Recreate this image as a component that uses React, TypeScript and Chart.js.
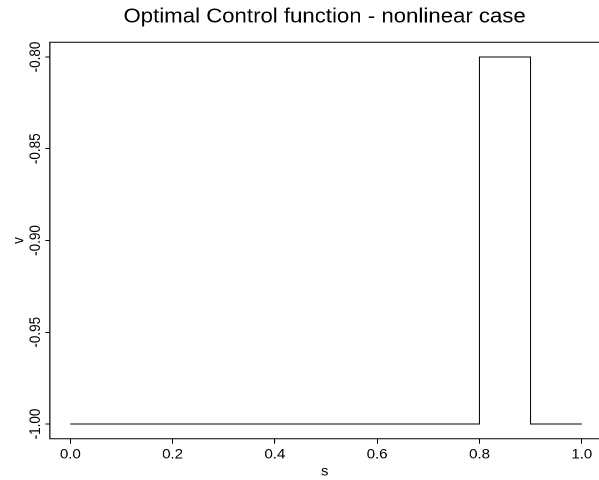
import React, { useEffect, useRef } from "react";
import { Chart, registerables } from "chart.js";

Chart.register(...registerables);

// Data: piecewise-constant optimal control v(s)
const sKnots = [0, 0.8, 0.9, 1.0];
const vValues = [-1.0, -0.8, -1.0, -1.0];

const xTicks = [0, 0.2, 0.4, 0.6, 0.8, 1.0];
const yTicks = [-1.0, -0.95, -0.9, -0.85, -0.8];

const titleText = "Optimal Control function - nonlinear case";
const xTitle = "s";
const yTitle = "v";

const SX = 1.11;
const CW = 540;
const CH = 480;
const FONT = "'Liberation Sans', Arial, Helvetica, sans-serif";

const boxPlugin = {
  id: "rbox",
  afterDraw(chart: any) {
    const { ctx, chartArea } = chart;
    const { left, top, right, bottom } = chartArea;
    ctx.save();
    ctx.strokeStyle = "#000";
    ctx.lineWidth = 1;
    ctx.beginPath();
    ctx.moveTo(right + 2, top);
    ctx.lineTo(left, top);
    ctx.lineTo(left, bottom);
    ctx.lineTo(right + 2, bottom);
    ctx.stroke();
    ctx.restore();
  },
};

export default function App() {
  const ref = useRef<HTMLCanvasElement | null>(null);

  useEffect(() => {
    if (!ref.current) return;
    const data = sKnots.map((s, i) => ({ x: s, y: vValues[i] }));
    const chart = new Chart(ref.current, {
      type: "line",
      data: {
        datasets: [
          {
            data,
            borderColor: "#000",
            borderWidth: 1,
            pointRadius: 0,
            fill: false,
            stepped: "before",
          },
        ],
      },
      options: {
        responsive: false,
        animation: false,
        devicePixelRatio: 2,
        layout: { padding: 0 },
        plugins: {
          legend: { display: false },
          tooltip: { enabled: false },
          title: {
            display: true,
            text: titleText,
            color: "#000",
            fullSize: false,
            font: { family: FONT, size: 20, weight: "normal" },
            padding: { top: 5, bottom: 13.3 },
          },
        },
        scales: {
          x: {
            type: "linear",
            min: -0.04,
            max: 1.0345,
            afterBuildTicks: (scale: any) => {
              scale.ticks = xTicks.map((v) => ({ value: v }));
            },
            afterFit: (scale: any) => {
              scale.height = 41.3;
            },
            grid: {
              display: true,
              drawOnChartArea: false,
              drawTicks: true,
              tickLength: 5,
              color: "#000",
              lineWidth: 1,
            },
            border: { display: false },
            ticks: {
              autoSkip: false,
              maxRotation: 0,
              color: "#000",
              padding: 3,
              font: { family: FONT, size: 13.5 },
              callback: (v: any) => Number(v).toFixed(1),
            },
            title: {
              display: true,
              text: xTitle,
              color: "#000",
              font: { family: FONT, size: 13.5 },
              padding: { top: 0, bottom: 0 },
            },
          },
          y: {
            type: "linear",
            min: -1.008,
            max: -0.792,
            afterBuildTicks: (scale: any) => {
              scale.ticks = yTicks.map((v) => ({ value: v }));
            },
            afterFit: (scale: any) => {
              scale.width = 44.9;
            },
            grid: {
              display: true,
              drawOnChartArea: false,
              drawTicks: true,
              tickLength: 4,
              color: "#000",
              lineWidth: 1,
            },
            border: { display: false },
            ticks: {
              autoSkip: false,
              minRotation: 90,
              maxRotation: 90,
              crossAlign: "center",
              color: "#000",
              padding: -6.9,
              font: { family: FONT, size: 13.5 },
              callback: (v: any) => Number(v).toFixed(2),
            },
            title: {
              display: true,
              text: yTitle,
              color: "#000",
              font: { family: FONT, size: 13.5 },
              padding: { top: 9, bottom: 0 },
            },
          },
        },
      },
      plugins: [boxPlugin],
    } as any);
    return () => chart.destroy();
  }, []);

  return (
    <div
      style={{
        position: "fixed",
        left: 0,
        top: 0,
        width: 599,
        height: 480,
        overflow: "hidden",
        background: "#fff",
      }}
    >
      <div
        style={{
          width: CW,
          height: CH,
          transform: `scaleX(${SX})`,
          transformOrigin: "0 0",
        }}
      >
        <canvas ref={ref} width={CW} height={CH} style={{ display: "block" }} />
      </div>
    </div>
  );
}
